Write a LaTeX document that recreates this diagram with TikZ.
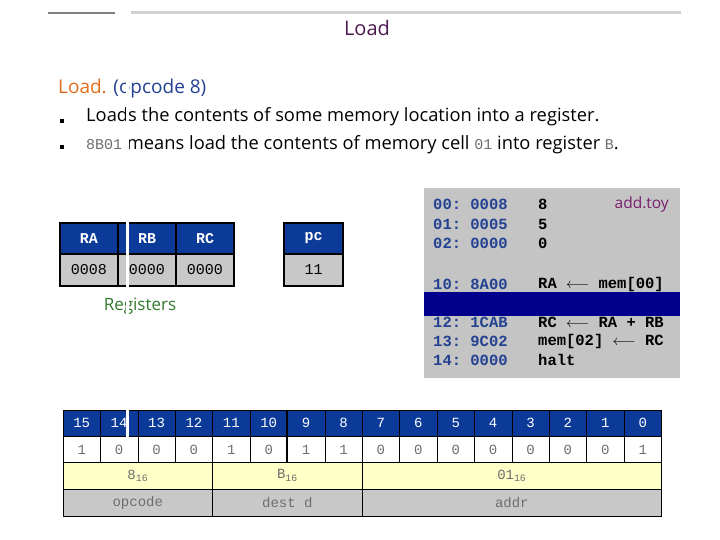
\documentclass[tikz,border=0pt]{standalone}
\usepackage{fontspec}
\setmainfont{Open Sans}
\setmonofont{Liberation Mono}
\usetikzlibrary{positioning}
\definecolor{hdrblue}{RGB}{12,58,152}
\definecolor{barblue}{RGB}{0,0,140}
\definecolor{cellgray}{RGB}{200,200,200}
\definecolor{memgray}{RGB}{196,196,196}
\definecolor{hexyellow}{RGB}{255,255,200}
\definecolor{addrblue}{RGB}{35,65,145}
\definecolor{titlepurple}{RGB}{75,25,80}
\definecolor{loadorange}{RGB}{225,110,30}
\definecolor{regreen}{RGB}{50,120,45}
\definecolor{toypurple}{RGB}{120,30,110}
\definecolor{digitgray}{RGB}{110,110,110}

\tikzset{
  reghead/.style={draw=black, line width=1.2pt, fill=hdrblue, text=white, font=\ttfamily\bfseries\fontsize{15}{15}\selectfont, minimum width=58pt, minimum height=31pt, inner sep=0pt},
  regval/.style={draw=black, line width=1.2pt, fill=cellgray, font=\ttfamily\fontsize{15}{15}\selectfont, minimum width=58pt, minimum height=32pt, inner sep=0pt},
  memline/.style={anchor=west, font=\ttfamily\bfseries\fontsize{15.5}{15.5}\selectfont, inner sep=0pt},
  bithead/.style={draw=black, fill=hdrblue, text=white, font=\ttfamily\fontsize{14}{14}\selectfont, minimum width=37.4pt, minimum height=26pt, inner sep=0pt},
  bitval/.style={draw=black, fill=white, text=digitgray, font=\ttfamily\fontsize{14}{14}\selectfont, minimum width=37.4pt, minimum height=26pt, inner sep=0pt},
  field/.style={draw=black, text=digitgray, font=\ttfamily\fontsize{14}{14}\selectfont, minimum height=27pt, inner sep=0pt},
  bulletsq/.style={fill=black, minimum size=4pt, inner sep=0pt}
}

\begin{document}
\begin{tikzpicture}[x=1pt, y=-1pt]
\useasboundingbox (0,0) rectangle (720,540);

% top rule
\draw[line width=2pt, gray] (48,13) -- (115,13);
\draw[line width=3pt, black!18] (131,13) -- (681,13);

% title and bullets
\node[text=titlepurple, font=\fontsize{20}{20}\selectfont] (title) at (367,28) {Load};
\node[anchor=west, font=\fontsize{19}{19}\selectfont, inner sep=0pt] (intro) at (58,89)
  {\textcolor{loadorange}{Load.} \textcolor{addrblue}{(opcode 8)}};
\node[bulletsq] (b1) at (62,121) {};
\node[bulletsq] (b2) at (62,147) {};
\node[anchor=west, font=\fontsize{18.3}{18.3}\selectfont, inner sep=0pt] (l1) at (86,117)
  {Loads the contents of some memory location into a register.};
\node[anchor=west, font=\fontsize{18.3}{18.3}\selectfont, inner sep=0pt] (l2) at (86,145)
  {{\ttfamily\color{digitgray}\fontsize{15}{15}\selectfont 8B01} means load the contents of memory cell {\ttfamily\color{digitgray}\fontsize{15}{15}\selectfont 01} into register {\ttfamily\color{digitgray}\fontsize{15}{15}\selectfont B}.};

% registers
\node[reghead] (ra) at (89,238.5) {RA};
\node[reghead] (rb) at (147,238.5) {RB};
\node[reghead] (rc) at (205,238.5) {RC};
\node[regval] (rav) at (89,270) {0008};
\node[regval] (rbv) at (147,270) {0000};
\node[regval] (rcv) at (205,270) {0000};
\node[reghead, minimum width=59pt] (pc) at (313.5,238.5) {pc};
\node[regval, minimum width=59pt] (pcv) at (313.5,270) {11};
\node[text=regreen, font=\fontsize{17}{17}\selectfont] (regs) at (140,306) {Registers};

% memory listing
\node[fill=memgray, minimum width=256pt, minimum height=190pt, inner sep=0pt] (mem) at (552,283) {};
\node[fill=barblue, minimum width=256pt, minimum height=24pt, inner sep=0pt] (bar) at (552,304) {};
\node[memline, text=addrblue] (m00) at (433,204) {00: 0008};
\node[memline, text=addrblue] (m01) at (433,224) {01: 0005};
\node[memline, text=addrblue] (m02) at (433,243) {02: 0000};
\node[memline, text=addrblue] (m10) at (433,284) {10: 8A00};
\node[memline, text=addrblue] (m12) at (433,322) {12: 1CAB};
\node[memline, text=addrblue] (m13) at (433,341) {13: 9C02};
\node[memline, text=addrblue] (m14) at (433,360) {14: 0000};
\node[memline] (c00) at (538,204) {8};
\node[memline] (c01) at (538,224) {5};
\node[memline] (c02) at (538,243) {0};
\node[memline] (c10) at (538,284) {RA $\longleftarrow$ mem[00]};
\node[memline] (c12) at (538,322) {RC $\longleftarrow$ RA + RB};
\node[memline] (c13) at (538,341) {mem[02] $\longleftarrow$ RC};
\node[memline] (c14) at (538,360) {halt};
\node[anchor=east, text=toypurple, font=\fontsize{15.5}{15.5}\selectfont, inner sep=0pt] (toy) at (669,204) {add.toy};

% instruction bits
\foreach \b [count=\i from 0] in {1,0,0,0,1,0,1,1,0,0,0,0,0,0,0,1} {
  \pgfmathtruncatemacro{\n}{15-\i}
  \node[bithead] (h\i) at ({63+37.4*(\i+0.5)},423) {\n};
  \node[bitval] (v\i) at ({63+37.4*(\i+0.5)},449.5) {\b};
}
\node[field, fill=hexyellow, minimum width=149.6pt] (hop) at (137.8,475.5) {8\textsubscript{16}};
\node[field, fill=hexyellow, minimum width=149.6pt] (hd) at (287.4,475.5) {B\textsubscript{16}};
\node[field, fill=hexyellow, minimum width=299.2pt] (ha) at (511.8,475.5) {01\textsubscript{16}};
\node[field, fill=cellgray, minimum width=149.6pt] (fop) at (137.8,502.5) {opcode};
\node[field, fill=cellgray, minimum width=149.6pt] (fd) at (287.4,502.5) {dest d};
\node[field, fill=cellgray, minimum width=299.2pt] (fa) at (511.8,502.5) {addr};
\draw[line width=1.5pt] (v0.south west) -- (v15.south east);
\draw[line width=1.5pt] (h6.north west) -- (v6.south west);

% white streak
\fill[white] (126,18) rectangle (129,437);
\end{tikzpicture}
\end{document}
